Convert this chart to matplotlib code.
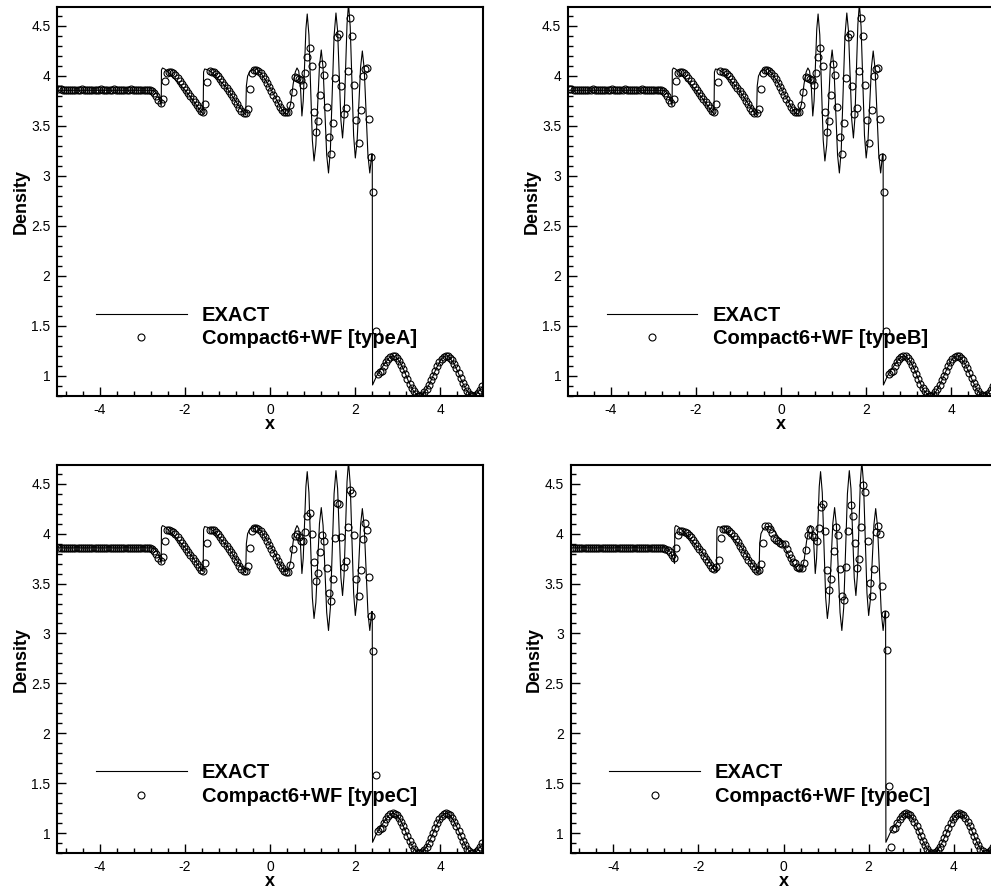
import numpy as np
import matplotlib
matplotlib.use("Agg")
import matplotlib.pyplot as plt
from matplotlib.ticker import MultipleLocator, FormatStrFormatter

plt.rcParams["font.family"] = ["Liberation Sans", "DejaVu Sans"]
plt.rcParams["axes.unicode_minus"] = False

# Reference ("EXACT") density profile
exact_x = [-5.0, -2.75, -2.70, -2.65, -2.60, -2.56, -2.555, -2.53, -2.48, -2.40,
           -2.0, -1.80, -1.62, -1.575, -1.565, -1.54, -1.45, -1.35, -1.0, -0.80,
           -0.62, -0.575, -0.56, -0.53, -0.47, -0.40, -0.32, -0.22, -0.05, 0.15,
           0.28, 0.36, 0.42, 0.48, 0.54, 0.59, 0.63, 0.67, 0.71, 0.745,
           0.776, 0.808, 0.839, 0.87, 0.91, 0.95, 0.99, 1.03, 1.0725, 1.115,
           1.1575, 1.20, 1.2425, 1.285, 1.3275, 1.37, 1.414, 1.4575, 1.501, 1.545,
           1.584, 1.6225, 1.661, 1.70, 1.735, 1.77, 1.805, 1.84, 1.88, 1.92,
           1.96, 2.00, 2.041, 2.0825, 2.124, 2.165, 2.209, 2.2525, 2.296, 2.34,
           2.362, 2.385, 2.398, 2.405, 2.50, 2.60, 2.70, 2.80, 2.88, 2.95,
           3.05, 3.15, 3.25, 3.35, 3.45, 3.52, 3.60, 3.70, 3.80, 3.90,
           4.00, 4.08, 4.14, 4.20, 4.30, 4.40, 4.50, 4.60, 4.70, 4.78,
           4.85, 4.95, 5.0]
exact_rho = [3.857, 3.857, 3.84, 3.81, 3.76, 3.70, 4.06, 4.08, 4.07, 4.04,
             3.86, 3.75, 3.64, 3.62, 4.04, 4.07, 4.06, 4.03, 3.87, 3.74,
             3.63, 3.61, 3.90, 4.00, 4.05, 4.07, 4.07, 4.03, 3.92, 3.76,
             3.66, 3.62, 3.63, 3.72, 3.92, 4.04, 4.08, 4.05, 3.90, 3.60,
             3.75, 4.11, 4.47, 4.62, 4.41, 3.885, 3.36, 3.15, 3.31, 3.705,
             4.10, 4.26, 4.08, 3.645, 3.21, 3.03, 3.26, 3.83, 4.40, 4.63,
             4.45, 4.005, 3.56, 3.38, 3.58, 4.05, 4.52, 4.72, 4.495, 3.95,
             3.405, 3.18, 3.34, 3.715, 4.09, 4.25, 4.07, 3.64, 3.21, 3.03,
             3.12, 3.22, 3.22, 0.91, 1.00, 1.07, 1.13, 1.185, 1.20, 1.19,
             1.14, 1.05, 0.945, 0.86, 0.81, 0.80, 0.82, 0.885, 0.975, 1.075,
             1.155, 1.195, 1.20, 1.19, 1.135, 1.05, 0.95, 0.865, 0.81, 0.80,
             0.82, 0.875, 0.90]

# 200 cell centres, dx = 0.05
x_cells = np.linspace(-4.975, 4.975, 200)

# x = -4.975 .. -2.825 (44 cells)
flat_ab = [3.87, 3.87, 3.86, 3.86, 3.86, 3.86, 3.86, 3.86, 3.86, 3.86, 3.86,
           3.87, 3.86, 3.86, 3.86, 3.86, 3.86, 3.86, 3.86, 3.86, 3.87, 3.86,
           3.86, 3.86, 3.86, 3.86, 3.87, 3.86, 3.86, 3.86, 3.86, 3.86, 3.86,
           3.86, 3.87, 3.86, 3.86, 3.86, 3.86, 3.86, 3.86, 3.86, 3.86, 3.86]
flat_cd = [3.86, 3.86, 3.86, 3.86, 3.86, 3.86, 3.86, 3.86, 3.86, 3.86, 3.86,
           3.86, 3.86, 3.86, 3.86, 3.86, 3.86, 3.86, 3.86, 3.86, 3.86, 3.86,
           3.86, 3.86, 3.86, 3.86, 3.86, 3.86, 3.86, 3.86, 3.86, 3.86, 3.86,
           3.86, 3.86, 3.86, 3.86, 3.86, 3.86, 3.86, 3.86, 3.86, 3.86, 3.86]

# x = -2.775 .. 0.675 (70 cells)
waves_ab = [3.85, 3.83, 3.80, 3.76, 3.73, 3.77, 3.95, 4.03, 4.04, 4.04,
            4.03, 4.01, 3.98, 3.95, 3.92, 3.89, 3.86, 3.83, 3.80, 3.77,
            3.74, 3.71, 3.68, 3.65, 3.64, 3.72, 3.94, 4.05, 4.04, 4.04,
            4.02, 4.00, 3.97, 3.94, 3.91, 3.88, 3.85, 3.82, 3.79, 3.75,
            3.72, 3.68, 3.65, 3.63, 3.63, 3.67, 3.87, 4.03, 4.06, 4.06,
            4.05, 4.03, 4.00, 3.97, 3.93, 3.89, 3.85, 3.81, 3.77, 3.73,
            3.69, 3.66, 3.64, 3.64, 3.64, 3.71, 3.84, 3.99, 3.98, 3.97]
waves_c = [3.85, 3.83, 3.80, 3.76, 3.73, 3.77, 3.93, 4.04, 4.04, 4.03,
           4.02, 4.00, 3.97, 3.94, 3.91, 3.88, 3.85, 3.82, 3.79, 3.76,
           3.73, 3.70, 3.67, 3.64, 3.63, 3.71, 3.91, 4.04, 4.04, 4.04,
           4.02, 4.00, 3.97, 3.94, 3.91, 3.88, 3.85, 3.82, 3.79, 3.75,
           3.72, 3.68, 3.65, 3.63, 3.63, 3.68, 3.86, 4.03, 4.06, 4.06,
           4.05, 4.03, 4.00, 3.97, 3.93, 3.89, 3.85, 3.81, 3.77, 3.73,
           3.69, 3.66, 3.63, 3.62, 3.62, 3.69, 3.85, 3.98, 4.00, 3.97]
waves_d = [3.85, 3.84, 3.82, 3.79, 3.76, 3.86, 3.99, 4.03, 4.03, 4.02,
           4.01, 3.99, 3.97, 3.94, 3.91, 3.88, 3.85, 3.82, 3.78, 3.75,
           3.72, 3.69, 3.66, 3.65, 3.67, 3.74, 3.96, 4.05, 4.05, 4.05,
           4.03, 4.01, 3.98, 3.95, 3.92, 3.88, 3.85, 3.81, 3.78, 3.74,
           3.71, 3.68, 3.65, 3.63, 3.64, 3.70, 3.91, 4.08, 4.08, 4.05,
           4.01, 3.96, 3.94, 3.93, 3.91, 3.90, 3.90, 3.85, 3.80, 3.76,
           3.72, 3.71, 3.67, 3.66, 3.66, 3.71, 3.84, 3.99, 4.05, 3.99]

# x = 0.725 .. 2.475 (36 cells)
osc_ab = [3.96, 3.91, 4.03, 4.19, 4.28, 4.10, 3.64, 3.44, 3.55, 3.81,
          4.12, 4.01, 3.69, 3.39, 3.22, 3.53, 3.98, 4.39, 4.42, 3.90,
          3.62, 3.68, 4.05, 4.58, 4.40, 3.91, 3.56, 3.33, 3.66, 4.00,
          4.07, 4.08, 3.57, 3.19, 2.84, 1.45]
osc_c = [3.93, 3.93, 4.02, 4.18, 4.21, 4.00, 3.72, 3.53, 3.61, 3.82,
         3.99, 3.93, 3.66, 3.41, 3.33, 3.55, 3.96, 4.31, 4.30, 3.97,
         3.67, 3.73, 4.07, 4.44, 4.41, 3.99, 3.55, 3.38, 3.64, 3.95,
         4.11, 4.04, 3.57, 3.17, 2.82, 1.58]
osc_d = [3.97, 3.93, 4.06, 4.27, 4.30, 4.03, 3.64, 3.44, 3.55, 3.83,
         4.07, 3.99, 3.65, 3.38, 3.34, 3.67, 4.03, 4.29, 4.18, 3.91,
         3.66, 3.75, 4.07, 4.49, 4.42, 3.93, 3.51, 3.38, 3.65, 4.02,
         4.08, 4.00, 3.48, 3.19, 2.83, 1.47]

# x = 2.525 .. 4.975 (50 cells)
tail_abc = [1.02, 1.04, 1.05, 1.10, 1.14, 1.17, 1.19, 1.20, 1.195, 1.18,
            1.15, 1.11, 1.07, 1.02, 0.97, 0.92, 0.88, 0.845, 0.815, 0.80,
            0.80, 0.81, 0.835, 0.865, 0.905, 0.955, 1.00, 1.05, 1.10, 1.14,
            1.17, 1.19, 1.20, 1.195, 1.18, 1.155, 1.115, 1.075, 1.025, 0.975,
            0.925, 0.885, 0.845, 0.82, 0.805, 0.80, 0.81, 0.83, 0.86, 0.90]
tail_d = [0.86, 1.04, 1.05, 1.10, 1.14, 1.17, 1.19, 1.20, 1.195, 1.18,
          1.15, 1.11, 1.07, 1.02, 0.97, 0.92, 0.88, 0.845, 0.815, 0.80,
          0.80, 0.81, 0.835, 0.865, 0.905, 0.955, 1.00, 1.05, 1.10, 1.14,
          1.17, 1.19, 1.20, 1.195, 1.18, 1.155, 1.115, 1.075, 1.025, 0.975,
          0.925, 0.885, 0.845, 0.82, 0.805, 0.80, 0.81, 0.83, 0.86, 0.90]

rho_a = flat_ab + waves_ab + osc_ab + tail_abc
rho_b = flat_ab + waves_ab + osc_ab + tail_abc
rho_c = flat_cd + waves_c + osc_c + tail_abc
rho_d = flat_cd + waves_d + osc_d + tail_d

labels = ["Compact6+WF [typeA]", "Compact6+WF [typeB]",
          "Compact6+WF [typeC]", "Compact6+WF [typeC]"]

fig = plt.figure(figsize=(9.91, 8.89), dpi=100)

# axes boxes in figure fractions (left, bottom, width, height)
boxes = [
    [0.0579, 0.5546, 0.4295, 0.4372],
    [0.5734, 0.5546, 0.4295, 0.4372],
    [0.0579, 0.0402, 0.4295, 0.4368],
    [0.5759, 0.0402, 0.4295, 0.4368],
]

for box, rho, lab in zip(boxes, [rho_a, rho_b, rho_c, rho_d], labels):
    ax = fig.add_axes(box)
    ax.plot(exact_x, exact_rho, color="black", lw=0.8, label="EXACT")
    ax.plot(x_cells, rho, linestyle="none", marker="o", ms=5.0,
            mfc="none", mec="black", mew=0.8, label=lab)

    ax.set_xlim(-5, 5)
    ax.set_ylim(0.8, 4.687)
    ax.xaxis.set_major_locator(MultipleLocator(2))
    ax.xaxis.set_minor_locator(MultipleLocator(0.4))
    ax.yaxis.set_major_locator(MultipleLocator(0.5))
    ax.yaxis.set_minor_locator(MultipleLocator(0.1))
    ax.yaxis.set_major_formatter(FormatStrFormatter("%g"))
    ax.xaxis.set_major_formatter(FormatStrFormatter("%g"))
    ax.tick_params(which="both", direction="in", top=False, right=False,
                   labelsize=10, width=1)
    ax.tick_params(which="major", length=6.5, pad=5)
    ax.tick_params(which="minor", length=3.6)
    for s in ax.spines.values():
        s.set_linewidth(1.5)

    ax.set_xlabel("x", fontsize=13, fontweight="bold", labelpad=-1)
    ax.set_ylabel("Density", fontsize=13, fontweight="bold", labelpad=1)

    ax.legend(loc="center left", bbox_to_anchor=(0.0907, 0.1775),
              frameon=False, borderpad=0, borderaxespad=0,
              handlelength=4.5, handletextpad=0.75, labelspacing=0.22,
              prop={"size": 14.5, "weight": "bold"})

fig.savefig("out.png", dpi=100)
